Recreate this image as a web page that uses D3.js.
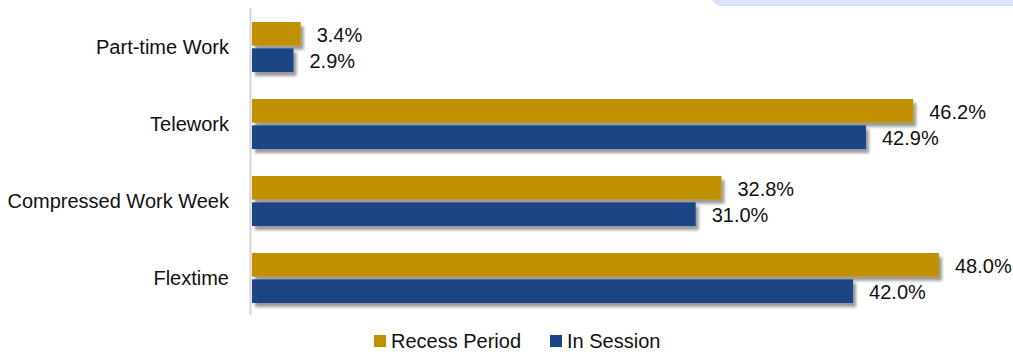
<!DOCTYPE html>
<html><head><meta charset="utf-8">
<script src="https://cdn.jsdelivr.net/npm/d3@7"></script>
<style>body{margin:0;background:#fff}svg{display:block;font-family:"Liberation Sans",Arial,sans-serif}</style>
</head><body><svg id="c" width="1013" height="352"></svg>
<script>
const categories = ["Part-time Work","Telework","Compressed Work Week","Flextime"];
const seriesNames = ["Recess Period","In Session"];
const recess = [3.4, 46.2, 32.8, 48.0];
const inSession = [2.9, 42.9, 31.0, 42.0];
const colors = ["#c09000","#1a4585"];

const svg = d3.select("#c");
const defs = svg.append("defs");
const f = defs.append("filter").attr("id","sh").attr("x","-10%").attr("y","-30%").attr("width","130%").attr("height","190%");
f.append("feDropShadow").attr("dx",3).attr("dy",4).attr("stdDeviation",1.6).attr("flood-color","#000").attr("flood-opacity",0.4);

// decorative top-right band
svg.append("path").attr("d","M712,0 L1013,0 L1013,6 L718,6 Z").attr("fill","#d6e4f6");

const x = d3.scaleLinear().domain([0,50]).range([252, 967.6]);
const y = d3.scaleBand().domain(categories).range([9, 317]).paddingInner(0).paddingOuter(0);
const y1 = d3.scaleBand().domain(seriesNames).range([0, 50]).paddingInner(0.1);
const offset = 13;
const fs = 20;

// axis line
svg.append("line").attr("x1",250.5).attr("x2",250.5).attr("y1",8).attr("y2",315).attr("stroke","#d4d4d4").attr("stroke-width",2);

const data = [recess, inSession];
categories.forEach((c,i)=>{
  const g = svg.append("g");
  seriesNames.forEach((s,j)=>{
    const v = data[j][i];
    const yy = y(c) + offset + y1(s);
    g.append("rect").attr("x",x(0)).attr("y",yy).attr("width",x(v)-x(0)).attr("height",y1.bandwidth())
      .attr("fill",colors[j]).attr("filter","url(#sh)");
    g.append("text").attr("x",x(v)+16).attr("y",yy+y1.bandwidth()/2+1).attr("dy","0.35em")
      .attr("font-size",fs).attr("fill","#111").text(v.toFixed(1)+"%");
  });
  svg.append("text").attr("x",229).attr("y",y(c)+offset+25).attr("dy","0.35em").attr("text-anchor","end")
    .attr("font-size",fs).attr("fill","#111").text(c);
});

// legend
const legX = [374, 550];
seriesNames.forEach((s,j)=>{
  svg.append("rect").attr("x",legX[j]).attr("y",335).attr("width",12).attr("height",12).attr("fill",colors[j]);
  svg.append("text").attr("x",legX[j]+17).attr("y",341).attr("dy","0.35em").attr("font-size",fs).attr("fill","#111").text(s);
});
</script></body></html>
